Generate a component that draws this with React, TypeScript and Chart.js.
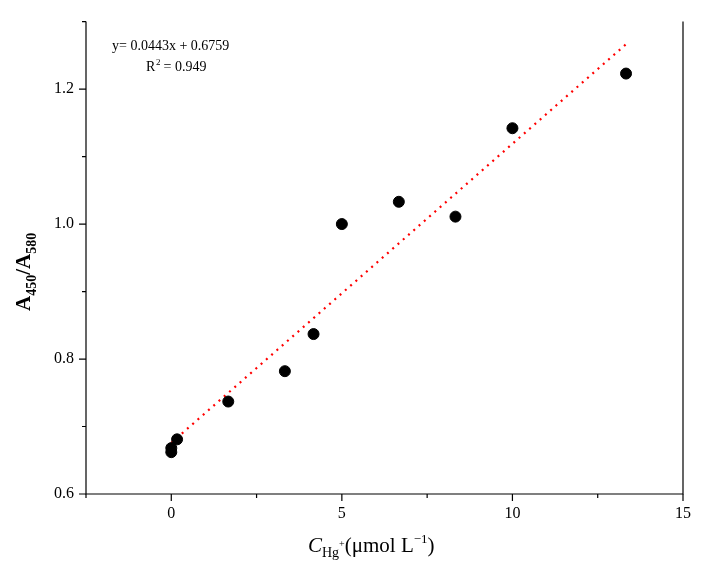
import React, { useEffect, useRef } from "react";
import { Chart, registerables } from "chart.js";
Chart.register(...registerables);

const concentrations = [0, 0, 0.17, 1.67, 3.33, 4.17, 5, 6.67, 8.33, 10, 13.33];
const ratios = [0.662, 0.668, 0.681, 0.737, 0.782, 0.837, 1.0, 1.033, 1.011, 1.142, 1.223];
const slope = 0.0443;
const intercept = 0.6759;
const fitX = [0, 13.33];
const xTicks = [0, 5, 10, 15];
const yTicks = [0.6, 0.8, 1.0, 1.2];
const FONT = "'Liberation Serif', 'Times New Roman', serif";

const frame = {
  id: "frame",
  afterDraw(c: any) {
    const { ctx, chartArea: a, scales } = c;
    ctx.save();
    ctx.strokeStyle = "#000";
    ctx.lineWidth = 1.2;
    ctx.beginPath();
    ctx.moveTo(a.left, a.top); ctx.lineTo(a.left, a.bottom); ctx.lineTo(a.right, a.bottom); ctx.lineTo(a.right, a.top);
    ctx.stroke();
    const xs = scales.x, ys = scales.y;
    ctx.beginPath();
    for (let v = -2.5; v <= 15.01; v += 2.5) {
      const px = xs.getPixelForValue(v);
      const major = Math.abs(v % 5) < 1e-6;
      ctx.moveTo(px, a.bottom); ctx.lineTo(px, a.bottom + (major ? 7 : 4));
    }
    for (let v = 0.6; v <= 1.301; v += 0.1) {
      const py = ys.getPixelForValue(v);
      const major = Math.round(v * 10) % 2 === 0;
      ctx.moveTo(a.left, py); ctx.lineTo(a.left - (major ? 7 : 4), py);
    }
    ctx.stroke();
    ctx.fillStyle = "#000";
    ctx.font = `14px ${FONT}`;
    ctx.textAlign = "left";
    ctx.textBaseline = "alphabetic";
    ctx.fillText(`y= ${slope}x + ${intercept}`, 112, 50);
    ctx.fillText("R", 146, 71);
    ctx.font = `9px ${FONT}`;
    ctx.fillText("2", 156, 65);
    ctx.font = `14px ${FONT}`;
    ctx.fillText(" = 0.949", 160, 71);
    let x = 308; const y = 552;
    ctx.font = `italic 21px ${FONT}`;
    ctx.fillText("C", x, y); x += ctx.measureText("C").width;
    ctx.font = `14px ${FONT}`;
    ctx.fillText("Hg", x, y + 5); x += ctx.measureText("Hg").width;
    ctx.font = `10px ${FONT}`;
    ctx.fillText("+", x, y - 5); x += ctx.measureText("+").width;
    ctx.font = `21px ${FONT}`;
    ctx.fillText("(μmol L", x, y); x += ctx.measureText("(μmol L").width;
    ctx.font = `13px ${FONT}`;
    ctx.fillText("−1", x, y - 9); x += ctx.measureText("−1").width;
    ctx.font = `21px ${FONT}`;
    ctx.fillText(")", x, y);
    ctx.translate(30, 251);
    ctx.rotate(-Math.PI / 2);
    let t = -60;
    const parts: [string, number, number][] = [["A", 21, 0], ["450", 14, 6], ["/A", 21, 0], ["580", 14, 6]];
    for (const [s, sz, dy] of parts) {
      ctx.font = `bold ${sz}px ${FONT}`;
      ctx.fillText(s, t, dy);
      t += ctx.measureText(s).width;
    }
    ctx.restore();
  },
};

export default function App() {
  const ref = useRef<HTMLCanvasElement>(null);
  useEffect(() => {
    const chart = new Chart(ref.current!, {
      type: "scatter",
      data: {
        datasets: [
          {
            data: concentrations.map((c, i) => ({ x: c, y: ratios[i] })),
            backgroundColor: "#000",
            borderColor: "#000",
            pointRadius: 5.5,
          },
          {
            type: "line",
            data: fitX.map((c) => ({ x: c, y: slope * c + intercept })),
            borderColor: "#ff0000",
            borderDash: [2, 5],
            borderWidth: 2.2,
            pointRadius: 0,
            showLine: true,
          } as any,
        ],
      },
      options: {
        animation: false,
        responsive: false,
        layout: { padding: { top: -5, right: 17, left: 0, bottom: 0 } },
        plugins: { legend: { display: false }, tooltip: { enabled: false } },
        scales: {
          x: {
            type: "linear", min: -2.5, max: 15,
            afterFit: (s: any) => { s.height = 76; },
            afterBuildTicks: (s: any) => { s.ticks = xTicks.map((v) => ({ value: v })); },
            grid: { display: false, drawTicks: false },
            border: { display: false },
            ticks: { color: "#000", font: { family: FONT, size: 16 }, padding: 10 },
          },
          y: {
            type: "linear", min: 0.6, max: 1.3,
            afterFit: (s: any) => { s.width = 86; },
            afterBuildTicks: (s: any) => { s.ticks = yTicks.map((v) => ({ value: v })); },
            grid: { display: false, drawTicks: false },
            border: { display: false },
            ticks: { color: "#000", font: { family: FONT, size: 16 }, padding: 12, callback: (v: any) => Number(v).toFixed(1) },
          },
        },
      },
      plugins: [frame],
    });
    return () => chart.destroy();
  }, []);
  return (
    <div style={{ position: "fixed", left: 0, top: 0, width: 701, height: 570, background: "#fff" }}>
      <canvas ref={ref} width={701} height={570} />
    </div>
  );
}
